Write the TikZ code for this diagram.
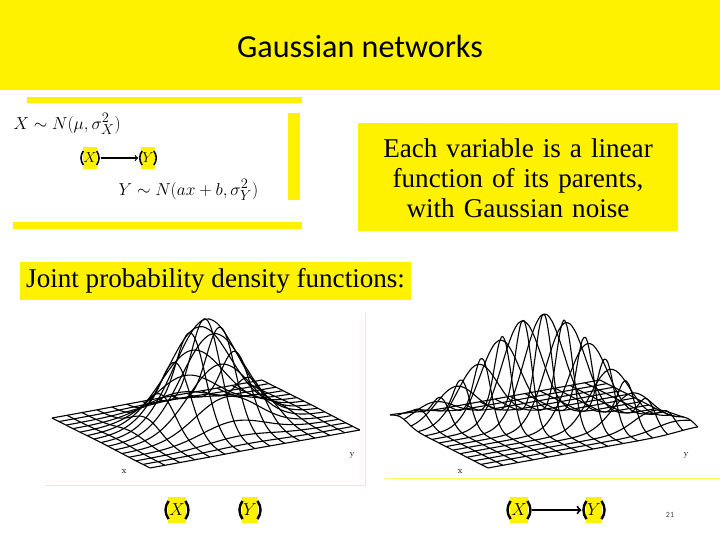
\documentclass[tikz,border=0pt]{standalone}
\usepackage{fontspec}
\setsansfont{Carlito}
\newfontfamily\timesfont{Liberation Serif}
\usetikzlibrary{positioning}
\tikzset{
  varnode/.style={fill=yellow, inner sep=1.5pt, minimum height=26pt, font=\LARGE},
  smallvar/.style={fill=yellow, inner sep=1pt, minimum height=22pt, font=\Large},
  paren/.style={line width=2.4pt},
  mesh/.style={line width=1.1pt, smooth, samples=30, domain=0:1},
  slidetext/.style={font=\timesfont\fontsize{27}{30}\selectfont}
}
\begin{document}
\begin{tikzpicture}[x=0.035cm, y=-0.035cm]
\useasboundingbox (0,0) rectangle (720,540);
% title band
\fill[yellow] (0,0) rectangle (720,90);
\node[font=\sffamily\fontsize{32}{36}\selectfont] (title) at (360,46) {Gaussian networks};
% top left picture
\fill[yellow] (27,97) rectangle (302,103);
\fill[yellow] (13,222) rectangle (302,229);
\fill[yellow] (288,113) rectangle (300,200);
\node[anchor=west, font=\fontsize{19}{22}\selectfont] (px) at (10,124) {$X \sim N(\mu,\sigma_X^2)$};
\node[smallvar] (tx) at (90,158) {$X$};
\node[smallvar] (ty) at (148,158) {$Y$};
\draw[->, line width=1.2pt] ([xshift=3pt]tx.east) -- ([xshift=-3pt]ty.west);
\node[anchor=west, font=\fontsize{19}{22}\selectfont] (py) at (115,190) {$Y \sim N(ax+b,\sigma_Y^2)$};
% explanation box
\fill[yellow] (358,123) rectangle (678,231);
\node[slidetext, text width=310pt, align=center] (expl) at (518,178)
  {Each variable is a linear function of its parents, with Gaussian noise};
\node[fill=yellow, anchor=west, slidetext, minimum height=37pt,
  inner xsep=6pt] (joint) at (20,281) {Joint probability density functions:};
% plot frames
\draw[yellow!60] (45,485) -- (365,485) -- (365,312);
\draw[yellow!60] (385,478) -- (720,478);
% left surface: independent X and Y
\foreach \v in {0,0.0714,...,1.01}
  \draw[mesh, variable=\u] plot ({52+98*\u+210*\v},{418+50*\u-38*\v-105*exp(-((\u-0.5)^2+(\v-0.5)^2)/0.045)});
\foreach \u in {0,0.0714,...,1.01}
  \draw[mesh, variable=\v] plot ({52+98*\u+210*\v},{418+50*\u-38*\v-105*exp(-((\u-0.5)^2+(\v-0.5)^2)/0.045)});
\node[font=\small] (lx) at (124,472) {x};
\node[font=\small] (ly) at (352,455) {y};
% right surface: Y depends on X
\foreach \v in {0,0.0714,...,1.01}
  \draw[mesh, variable=\u] plot ({390+98*\u+210*\v},{418+50*\u-38*\v-110*exp(-(\u-0.5)^2/0.07-(\v-\u)^2/0.018)});
\foreach \u in {0,0.0714,...,1.01}
  \draw[mesh, variable=\v, samples=40] plot ({390+98*\u+210*\v},{418+50*\u-38*\v-110*exp(-(\u-0.5)^2/0.07-(\v-\u)^2/0.018)});
\node[font=\small] (rx) at (460,472) {x};
\node[font=\small] (ry) at (686,455) {y};
% bottom nodes
\node[varnode] (lX) at (177,510) {$X$};
\node[varnode] (lY) at (250,510) {$Y$};
\node[varnode] (rX) at (519,510) {$X$};
\node[varnode] (rY) at (594,510) {$Y$};
\draw[->, line width=2pt] ([xshift=4pt]rX.east) -- ([xshift=-4pt]rY.west);
% round brackets round the variables
\foreach \n in {lX,lY,rX,rY}{
  \draw[paren] ([xshift=1pt,yshift=9pt]\n.west) to[bend right=35] ([xshift=1pt,yshift=-9pt]\n.west);
  \draw[paren] ([xshift=-1pt,yshift=9pt]\n.east) to[bend left=35] ([xshift=-1pt,yshift=-9pt]\n.east);
}
\foreach \n in {tx,ty}{
  \draw[line width=1.6pt] ([xshift=1pt,yshift=7pt]\n.west) to[bend right=35] ([xshift=1pt,yshift=-7pt]\n.west);
  \draw[line width=1.6pt] ([xshift=-1pt,yshift=7pt]\n.east) to[bend left=35] ([xshift=-1pt,yshift=-7pt]\n.east);
}
\node[font=\sffamily\footnotesize, text=black!70] (num) at (670,515) {21};
\end{tikzpicture}
\end{document}
